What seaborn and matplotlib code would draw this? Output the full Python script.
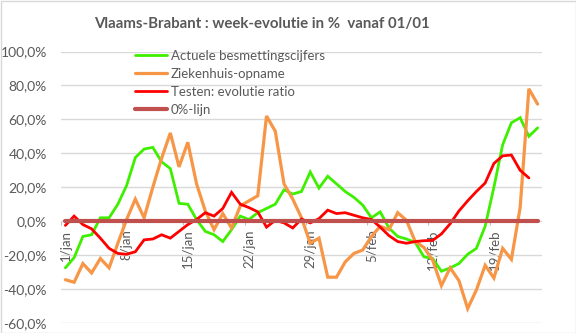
import numpy as np
import pandas as pd
import matplotlib
matplotlib.use("Agg")
import matplotlib.pyplot as plt
import seaborn as sns
from matplotlib.patches import Rectangle

# ---------------- data (values in %) ----------------
days = list(range(55))  # 1 jan .. 24 feb
tick_positions = [0, 7, 14, 21, 28, 35, 42, 49]
tick_labels = ["1/jan", "8/jan", "15/jan", "22/jan", "29/jan", "5/feb", "12/feb", "19/feb"]

besmettingen = [-27.5, -21.5, -9, -8, 2, 2, 10, 21, 37.5, 42.5, 43.5, 35, 31, 10.5, 10,
                1, -6, -8, -12, -5, 3, 1, 5, 7.5, 10, 18.5, 16, 17.5, 29, 19.5,
                26.5, 22, 17.5, 14, 9.5, 2, 5.5, -4, -9, -10.5, -12.5, -21, -22, -29.5,
                -27.5, -25, -19.5, -16, -3, 20, 45, 58, 61, 50, 55]
ziekenhuis = [-34.5, -36, -25, -30.5, -22, -27.5, -13, 1, 13, 2, 20, 37, 52, 32, 46.5,
              22, 6, -5, 4.5, -4, 9, 12, 15, 62, 53, 22, 13, 2, -13, -10,
              -33, -33, -24, -19, -17, -9, -3, -5, 5, 0.5, -12, -15.5, -23, -38,
              -27.5, -35, -51.5, -40.5, -26, -33.5, -16, -22.5, 8, 78, 69]
testen = [-2.5, 3, -2, -4.5, -10, -16, -19, -19.5, -18, -11, -10.5, -8, -10, -6, -2,
          1, 5, 3, 7.5, 17, 10, 8, 5.5, -3.5, 0.5, -1, -4, 1.3, -1, 1.5,
          6.5, 4.5, 5, 3.5, 2, 1, -3.5, -8.5, -12, -13, -12, -11.5, -11.3, -7.5,
          -1.5, 6, 12, 17.5, 22.5, 34, 38.5, 39, 30, 25.5, np.nan]
nullijn = [0.0] * 55

series_names = ["Actuele besmettingscijfers", "Ziekenhuis-opname",
                "Testen: evolutie ratio", "0%-lijn"]
series_values = [besmettingen, ziekenhuis, testen, nullijn]
series_colors = ["#3EF000", "#F79646", "#FF0000", "#C0504D"]
series_widths = [2.0, 2.3, 2.0, 3.0]

# ---------------- plot ----------------
sns.set_theme(style="white")
plt.rcParams["font.family"] = ["Lato", "DejaVu Sans"]
text_color = "#595959"

fig = plt.figure(figsize=(5.76, 3.33), dpi=100)
ax = fig.add_axes([61 / 576, 1 - 323 / 333, 481 / 576, (323 - 51.5) / 333])

for name, vals, col, lw in zip(series_names, series_values, series_colors, series_widths):
    df = pd.DataFrame({"dag": days, "waarde": vals})
    sns.lineplot(data=df, x="dag", y="waarde", ax=ax, color=col, linewidth=lw,
                 label=name, solid_joinstyle="miter")

ax.set_xlim(-0.5, 54.5)
ax.set_ylim(-60, 100)
yt = list(range(-60, 101, 20))
ax.set_yticks(yt)
ax.set_yticklabels([f"{v:.1f}%".replace(".", ",") for v in yt], color=text_color, fontsize=10)
ax.yaxis.grid(True, color="#D9D9D9", linewidth=1.0)
ax.xaxis.grid(False)
ax.set_axisbelow(True)

ax.spines["bottom"].set_position(("data", 0))
for s in ax.spines.values():
    s.set_visible(False)
ax.set_xticks(tick_positions)
ax.set_xticklabels(tick_labels, rotation=90, color=text_color, fontsize=9.5)
ax.set_xticks([p - 0.5 for p in tick_positions], minor=True)
ax.tick_params(axis="x", which="major", length=0, pad=6)
ax.tick_params(axis="x", which="minor", length=3, color="#BFBFBF", width=0.8, direction="out", bottom=True)
ax.tick_params(axis="y", length=0, pad=10)
ax.set_xlabel("")
ax.set_ylabel("")

leg = ax.legend(loc="upper left", bbox_to_anchor=(135 / 576, 1 - 50 / 333),
                bbox_transform=fig.transFigure, frameon=False, fontsize=9.5,
                handlelength=2.4, handletextpad=0.3, labelspacing=0.45, borderpad=0,
                borderaxespad=0)
for t in leg.get_texts():
    t.set_color(text_color)

fig.text(262 / 576, 1 - 24 / 333, "Vlaams-Brabant : week-evolutie in %  vanaf 01/01",
         ha="center", va="center", fontsize=10.8, fontweight="bold", color=text_color)

fig.patches.append(Rectangle((0.5 / 576, 0.5 / 333), 1 - 1 / 576, 1 - 1 / 333,
                             transform=fig.transFigure, fill=False,
                             edgecolor="#D9D9D9", linewidth=1))

fig.savefig("out.png", dpi=100)
